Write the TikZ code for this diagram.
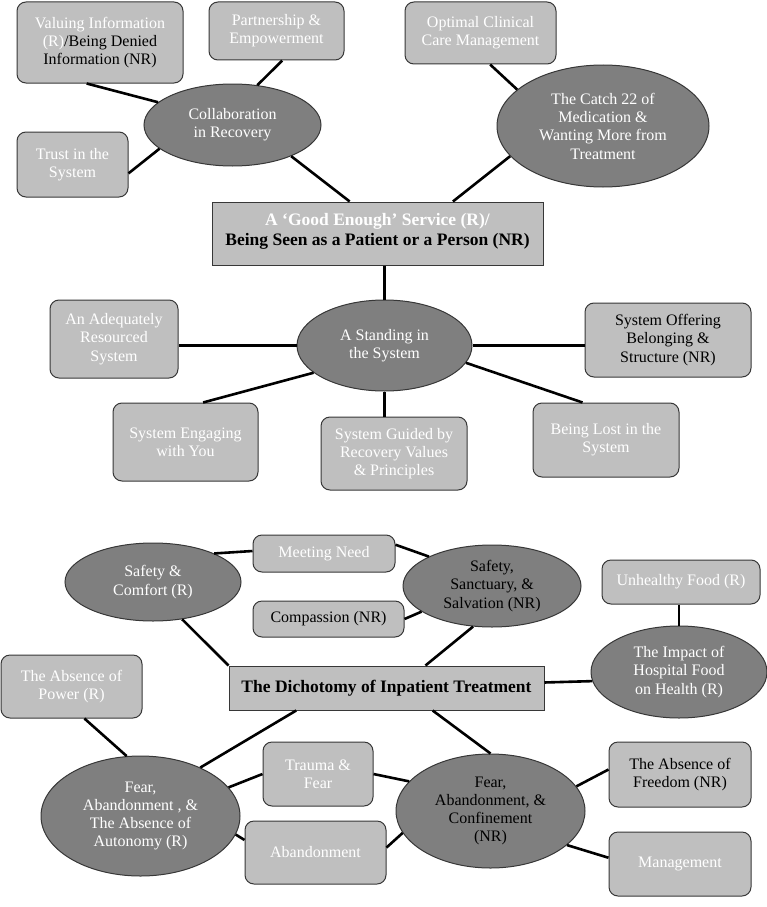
\documentclass[tikz,border=0pt]{standalone}
\usepackage{fontspec}
\setmainfont{Liberation Serif}
\usepackage{tikz}
\usetikzlibrary{shapes.geometric}
\usepackage{xcolor}
\definecolor{boxgray}{RGB}{191, 191, 191}
\definecolor{ovalgray}{RGB}{127, 127, 127}
\definecolor{edgegray}{RGB}{55, 55, 55}

\begin{document}
\begin{tikzpicture}[x=1pt, y=-1pt,
    every node/.style={font=\fontsize{16}{18.3}\selectfont, text=white, align=center, inner sep=0pt},
    sub/.style={draw=edgegray, line width=1pt, fill=boxgray, rounded corners=9pt},
    theme/.style={draw=edgegray, line width=1pt, fill=ovalgray, ellipse},
    topic/.style={draw=edgegray, line width=1pt, fill=boxgray, font=\bfseries\fontsize{17.5}{20}\selectfont},
    link/.style={line width=2.6pt, black}]
    \useasboundingbox (0,0) rectangle (767,907);
    % Upper map: service
    \node[topic, minimum width=331, minimum height=63, text=black, text depth=8pt] (serv) at (377.5,233.5) {\textcolor{white}{A ‘Good Enough’ Service (R)/}\\Being Seen as a Patient or a Person (NR)};
    \node[theme, minimum width=177, minimum height=82] (coll) at (232.5,125) {Collaboration\\in Recovery};
    \node[theme, minimum width=212, minimum height=122] (catch) at (603,126) {The Catch 22 of\\Medication \&\\Wanting More from\\Treatment};
    \node[theme, minimum width=175, minimum height=91] (stand) at (384.5,345.5) {A Standing in\\the System};
    \node[sub, minimum width=166, minimum height=81] (val) at (100,42.5) {Valuing Information\\(R)\textcolor{black}{/Being Denied}\\\textcolor{black}{Information (NR)}};
    \node[sub, minimum width=135, minimum height=58] (part) at (276.5,31) {Partnership \&\\Empowerment};
    \node[sub, minimum width=111, minimum height=65] (trust) at (72.5,164.5) {Trust in the\\System};
    \node[sub, minimum width=151, minimum height=62] (opt) at (480.5,33) {Optimal Clinical\\Care Management};
    \node[sub, minimum width=128, minimum height=78] (adeq) at (114,339) {An Adequately\\Resourced\\System};
    \node[sub, minimum width=166, minimum height=74, text=black] (offer) at (668,340) {System Offering\\Belonging \&\\Structure (NR)};
    \node[sub, minimum width=145, minimum height=78] (engage) at (185.5,442) {System Engaging\\with You};
    \node[sub, minimum width=146, minimum height=73] (guided) at (394,453.5) {System Guided by\\Recovery Values\\\& Principles};
    \node[sub, minimum width=146, minimum height=74] (lost) at (606,440) {Being Lost in the\\System};
    % Lower map: inpatient treatment
    \node[topic, minimum width=315, minimum height=44, text=black] (dich) at (386.5,688) {The Dichotomy of Inpatient Treatment};
    \node[theme, minimum width=176, minimum height=78] (comfort) at (153,582) {Safety \&\\Comfort (R)};
    \node[theme, minimum width=178, minimum height=82, text=black] (sanct) at (492,586) {Safety,\\Sanctuary, \&\\Salvation (NR)};
    \node[theme, minimum width=176, minimum height=92] (impact) at (679,672) {The Impact of\\Hospital Food\\on Health (R)};
    \node[theme, minimum width=199, minimum height=120] (fearR) at (140.5,816) {Fear,\\Abandonment , \&\\The Absence of\\Autonomy (R)};
    \node[theme, minimum width=189, minimum height=114, text=black] (fearNR) at (490.5,811) {Fear,\\Abandonment, \&\\Confinement\\(NR)};
    \node[sub, minimum width=142, minimum height=37] (need) at (324,553.5) {Meeting Need};
    \node[sub, minimum width=151, minimum height=36, text=black] (compas) at (328.5,619) {Compassion (NR)};
    \node[sub, minimum width=158, minimum height=44] (food) at (681,582) {Unhealthy Food (R)};
    \node[sub, minimum width=141, minimum height=63] (power) at (71.5,686.5) {The Absence of\\Power (R)};
    \node[sub, minimum width=110, minimum height=64] (trauma) at (318,774) {Trauma \&\\Fear};
    \node[sub, minimum width=141, minimum height=63] (aband) at (315.5,852.5) {Abandonment};
    \node[sub, minimum width=142, minimum height=65, text=black] (freedom) at (680,774.5) {The Absence of\\Freedom (NR)};
    \node[sub, minimum width=142, minimum height=64] (manage) at (680,864) {Management};
    % Links
    \foreach \a/\b in {val.-108/coll.163, part.-79/coll.58, trust.-9/coll.198, coll.-28/serv.131,
        opt.-73/catch.157, catch.198/serv.23, stand.201/engage.66, stand.-12/lost.122,
        comfort.25/need.178, need.7/sanct.155, compas.east/sanct.200, comfort.-52/dich.north west,
        sanct.-115/dich.30, dich.2/impact.186, power.-68/fearR.103, dich.-166/fearR.39,
        fearR.18/trauma.west, trauma.east/fearNR.160, fearR.-11/aband.170, aband.4/fearNR.194,
        dich.-26/fearNR.north, fearNR.16/freedom.176, fearNR.-24/manage.175}
      \draw[link] (\a) -- (\b);
    \draw[link] (serv.south -| stand.north) -- (stand.north);
    \draw[link] (stand.west) -- (stand.west -| adeq.east);
    \draw[link] (stand.east) -- (stand.east -| offer.west);
    \draw[link] (stand.south) -- (stand.south |- guided.north);
    \draw[link] (food.south -| impact.north) -- (impact.north);
\end{tikzpicture}
\end{document}
